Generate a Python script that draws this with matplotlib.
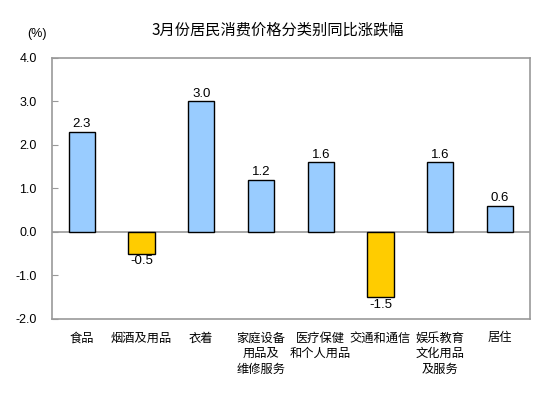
import matplotlib.pyplot as plt
import numpy as np

plt.rcParams['font.family'] = ['Noto Sans CJK SC', 'DejaVu Sans']

categories = ['食品', '烟酒及用品', '衣着', '家庭设备\n用品及\n维修服务', '医疗保健\n和个人用品',
              '交通和通信', '娱乐教育\n文化用品\n及服务', '居住']
values = [2.3, -0.5, 3.0, 1.2, 1.6, -1.5, 1.6, 0.6]
yticks = [-2.0, -1.0, 0.0, 1.0, 2.0, 3.0, 4.0]

fig = plt.figure(figsize=(5.53, 3.98), dpi=100)
ax = fig.add_axes([0.094, 0.1985, 0.864, 0.6558])

x = np.arange(len(categories))
colors = ['#99CCFF' if v >= 0 else '#FFCC00' for v in values]
ax.bar(x, values, width=0.44, color=colors, edgecolor='black', linewidth=1.0, zorder=3)

for xi, v in zip(x, values):
    if v >= 0:
        ax.text(xi, v + 0.04, '%.1f' % v, ha='center', va='bottom', fontsize=9.5,
                family='Liberation Sans')
    else:
        ax.text(xi, v - 0.04, '%.1f' % v, ha='center', va='top', fontsize=9.5,
                family='Liberation Sans')

ax.axhline(0, color='#999999', linewidth=1.2, zorder=2)
ax.set_xlim(-0.5, len(categories) - 0.5)
ax.set_ylim(-2.0, 4.0)
ax.set_yticks(yticks)
ax.set_yticklabels(['%.1f' % t for t in yticks], fontsize=9, family='Liberation Sans')
ax.tick_params(axis='y', direction='in', length=4, color='#999999', pad=11)
ax.set_xticks(x)
ax.set_xticklabels(categories, fontsize=8.8, linespacing=1.25, va='top')
ax.tick_params(axis='x', length=0, pad=9)
for s in ax.spines.values():
    s.set_color('#999999')
    s.set_linewidth(1.2)

fig.text(0.503, 0.925, '3月份居民消费价格分类别同比涨跌幅', ha='center', va='center', fontsize=11)
fig.text(0.049, 0.915, '(%)', ha='left', va='center', fontsize=9, family='Liberation Sans')

fig.savefig('out.png', dpi=100)
